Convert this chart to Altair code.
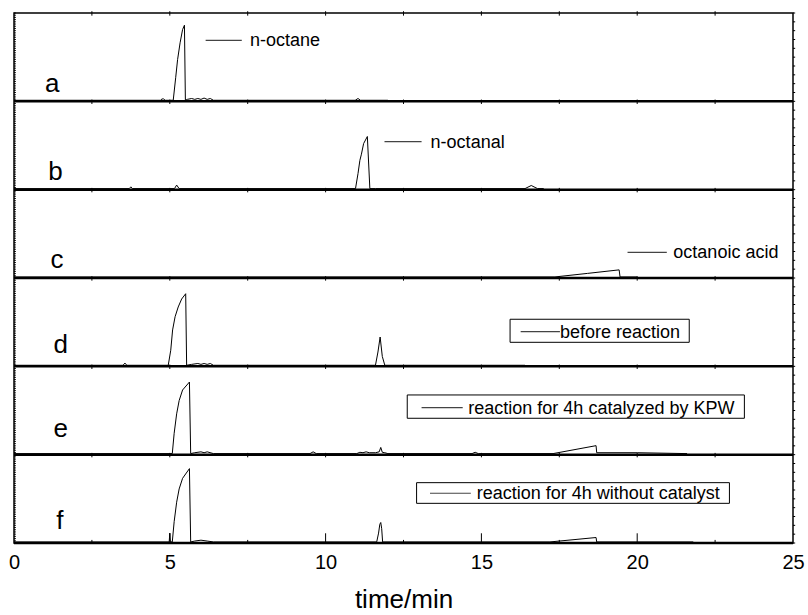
import altair as alt
import pandas as pd

FONT = "Liberation Sans"

# ---- chromatogram traces: retention time (min) and height as fraction of panel ----
a_t = [0, 4.70, 4.75, 4.80, 4.85, 5.11, 5.19, 5.25, 5.33, 5.41, 5.47, 5.50, 5.56, 5.70, 5.80, 5.90, 6.00, 6.10, 6.20, 6.30, 6.40, 10.95, 11.04, 11.12, 12.0]
a_h = [0, 0, 0.015, 0.015, 0, 0, 0.26, 0.46, 0.65, 0.80, 0.85, 0, 0.01, 0.02, 0.01, 0.02, 0.01, 0.025, 0.01, 0.02, 0, 0, 0.02, 0, 0]

b_t = [0, 3.70, 3.75, 3.80, 5.15, 5.22, 5.30, 10.96, 11.04, 11.10, 11.15, 11.22, 11.34, 11.42, 11.60, 16.40, 16.60, 16.80, 17.0]
b_h = [0, 0, 0.02, 0, 0, 0.04, 0, 0, 0.17, 0.32, 0.39, 0.51, 0.59, 0, 0, 0, 0.035, 0, 0]

c_t = [0, 17.36, 18.40, 19.42, 19.45, 20.0]
c_h = [0, 0, 0.04, 0.08, 0, 0]

d_t = [0, 3.50, 3.56, 3.62, 4.95, 5.03, 5.09, 5.17, 5.27, 5.38, 5.51, 5.54, 5.70, 5.90, 6.00, 6.10, 6.20, 6.30, 6.40, 11.60, 11.68, 11.75, 11.82, 11.90, 16.40]
d_h = [0, 0, 0.025, 0, 0, 0.17, 0.40, 0.55, 0.66, 0.75, 0.81, 0, 0.01, 0.02, 0.01, 0.02, 0.01, 0.02, 0, 0, 0.15, 0.32, 0.10, 0, 0]

e_t = [0, 5.08, 5.14, 5.22, 5.30, 5.41, 5.63, 5.67, 5.80, 6.00, 6.10, 6.20, 6.40, 9.50, 9.60, 9.70, 11.00, 11.10, 11.20, 11.30, 11.40, 11.60, 11.72, 11.77, 11.82, 11.90, 12.00, 14.70, 14.80, 14.90, 17.30, 18.68, 18.70, 20.00, 21.60]
e_h = [0, 0, 0.23, 0.45, 0.60, 0.72, 0.81, 0, 0.01, 0.02, 0.01, 0.02, 0, 0, 0.02, 0, 0, 0.015, 0.01, 0.02, 0.01, 0.01, 0.02, 0.07, 0.015, 0.01, 0, 0, 0.015, 0, 0, 0.09, 0.01, 0.01, 0]

f_t = [0, 4.98, 5.00, 5.02, 5.08, 5.14, 5.22, 5.30, 5.41, 5.63, 5.67, 5.80, 6.00, 6.20, 6.40, 11.64, 11.70, 11.74, 11.77, 11.80, 11.83, 17.20, 18.68, 18.70, 21.80]
f_h = [0, 0, 0.10, 0, 0, 0.23, 0.45, 0.60, 0.72, 0.83, 0, 0.01, 0.02, 0.01, 0, 0, 0.10, 0.20, 0.22, 0.15, 0, 0, 0.05, 0, 0]

letters = ["a", "b", "c", "d", "e", "f"]
traces_t = [a_t, b_t, c_t, d_t, e_t, f_t]
traces_h = [a_h, b_h, c_h, d_h, e_h, f_h]

# panel letter positions (time, stacked y)
letter_t = [1.23, 1.33, 1.38, 1.50, 1.50, 1.47]
letter_y = [5.106, 4.109, 3.113, 2.151, 1.20, 0.158]

# annotations
ann_text = ["n-octane", "n-octanal", "octanoic acid", "before reaction",
            "reaction for 4h catalyzed by KPW", "reaction for 4h without catalyst"]
ann_line_t1 = [6.15, 11.89, 19.69, 16.26, 13.08, 13.35]
ann_line_t2 = [7.31, 13.08, 20.95, 17.52, 14.40, 14.66]
ann_line_y = [5.69, 4.543, 3.291, 2.392, 1.532, 0.563]
ann_text_t = [7.57, 13.37, 21.16, 17.52, 14.58, 14.85]
box_t1 = [15.92, 12.62, 12.92]
box_t2 = [21.67, 23.44, 22.96]
box_y1 = [2.272, 1.412, 0.449]
box_y2 = [2.533, 1.676, 0.683]

x_labels = [0, 5, 10, 15, 20, 25]
minor_ticks = [2.5, 7.5, 12.5, 17.5, 22.5]
major_inner = [5, 10, 15, 20]
sep_ticks = [2.5, 5, 7.5, 10, 12.5, 15, 17.5, 20, 22.5]

base_lift = 0.012

# ---- build tables ----
rows = []
for i, (tt, hh) in enumerate(zip(traces_t, traces_h)):
    for t, h in zip(tt, hh):
        rows.append({"series": letters[i], "t": t, "y": 5 - i + h + base_lift})
trace_df = pd.DataFrame(rows)

letter_df = pd.DataFrame({"label": letters, "t": letter_t, "y": letter_y})
ann_line_df = pd.DataFrame({"t": ann_line_t1, "t2": ann_line_t2, "y": ann_line_y})
ann_text_df = pd.DataFrame({"label": ann_text, "t": ann_text_t, "y": ann_line_y})
box_df = pd.DataFrame({"t": box_t1, "t2": box_t2, "y": box_y1, "y2": box_y2})
sep_df = pd.DataFrame({"t": [0] * 6, "t2": [25] * 6, "y": [0, 1, 2, 3, 4, 5]})

tick_rows = []
for k in [1, 2, 3, 4, 5, 6]:
    for t in sep_ticks:
        tick_rows.append({"t": t, "t2": t, "y": k - 0.03, "y2": k + 0.02})
for t in major_inner:
    tick_rows.append({"t": t, "t2": t, "y": 0, "y2": 0.11})
for t in minor_ticks:
    tick_rows.append({"t": t, "t2": t, "y": 0, "y2": 0.035})
for j in range(0, 61):
    tick_rows.append({"t": 25, "t2": 25.07, "y": j / 10, "y2": j / 10})
for j in range(0, 241):
    tick_rows.append({"t": 0, "t2": 0.06, "y": j / 40, "y2": j / 40})
tick_df = pd.DataFrame(tick_rows)

xscale = alt.Scale(domain=[0, 25], nice=False, zero=False)
yscale = alt.Scale(domain=[0, 6], nice=False, zero=False)
xaxis = alt.Axis(values=x_labels, ticks=False, domain=False, grid=False, labelFlush=False,
                 labelFontSize=20, labelPadding=9, labelFont=FONT, labelColor="black",
                 title="time/min", titleFontSize=26, titleFont=FONT, titleFontWeight="normal",
                 titleColor="black", titlePadding=14, format="d")
X = alt.X("t:Q", scale=xscale, axis=xaxis)
Y = alt.Y("y:Q", scale=yscale, axis=None)

lines = alt.Chart(trace_df).mark_line(color="black", strokeWidth=1).encode(
    x=X, y=Y, detail="series:N", order="t:Q")

seps = alt.Chart(sep_df).mark_rule(color="black", strokeWidth=2.5).encode(
    x=X, x2="t2:Q", y=Y)

ticks = alt.Chart(tick_df).mark_rule(color="black", strokeWidth=1).encode(
    x=X, x2="t2:Q", y=Y, y2="y2:Q")

letter_marks = alt.Chart(letter_df).mark_text(
    fontSize=26, font=FONT, align="center", baseline="alphabetic", color="black").encode(
    x=X, y=Y, text="label:N")

ann_lines = alt.Chart(ann_line_df).mark_rule(color="#444444", strokeWidth=1.2).encode(
    x=X, x2="t2:Q", y=Y)

ann_texts = alt.Chart(ann_text_df).mark_text(
    fontSize=18, font=FONT, align="left", baseline="middle", color="black", dy=1).encode(
    x=X, y=Y, text="label:N")

boxes = alt.Chart(box_df).mark_rect(filled=False, stroke="black", strokeWidth=1).encode(
    x=X, x2="t2:Q", y=Y, y2="y2:Q")

chart = alt.layer(lines, seps, ticks, letter_marks, ann_lines, ann_texts, boxes).properties(
    width=779, height=530,
    autosize=alt.AutoSizeParams(type="none"),
    padding={"left": 14, "top": 13, "right": 15, "bottom": 72},
    background="white",
).configure_view(stroke="black", strokeWidth=1.5)

chart.save("out.html", embed_options={"renderer": "svg", "actions": False})
